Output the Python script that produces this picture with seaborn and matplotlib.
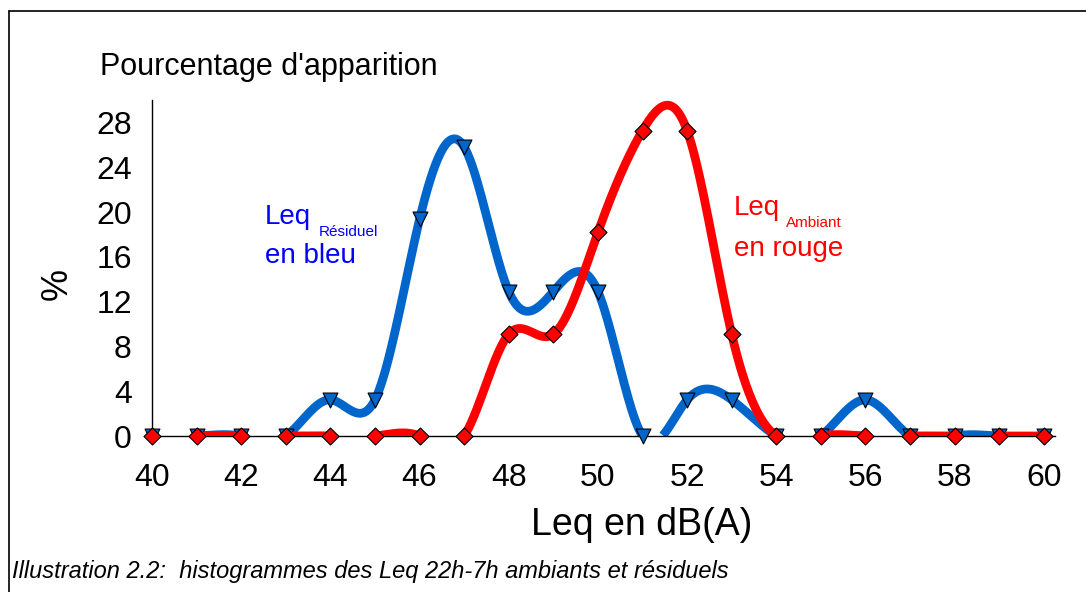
import numpy as np
import pandas as pd
import matplotlib
matplotlib.use("Agg")
import matplotlib.pyplot as plt
from matplotlib.lines import Line2D
import seaborn as sns

# --- data (percent of nights per 1 dB class) ---
leq = [40, 41, 42, 43, 44, 45, 46, 47, 48, 49, 50,
       51, 52, 53, 54, 55, 56, 57, 58, 59, 60]
residuel = [0, 0, 0, 0, 3.23, 3.23, 19.35, 25.81, 12.90, 12.90, 12.90,
            0, 3.23, 3.23, 0, 0, 3.23, 0, 0, 0, 0]
ambiant = [0, 0, 0, 0, 0, 0, 0, 0, 9.09, 9.09, 18.18,
           27.27, 27.27, 9.09, 0, 0, 0, 0, 0, 0, 0]

BLUE = "#0066cc"
RED = "#ff0000"


def smooth_curve(x, y, n=60):
    # natural cubic spline through the points, parts below 0 hidden
    x = np.asarray(x, float)
    y = np.asarray(y, float)
    h = np.diff(x)
    k = len(x)
    A = np.zeros((k, k))
    b = np.zeros(k)
    A[0, 0] = A[-1, -1] = 1
    for i in range(1, k - 1):
        A[i, i - 1] = h[i - 1]
        A[i, i] = 2 * (h[i - 1] + h[i])
        A[i, i + 1] = h[i]
        b[i] = 6 * ((y[i + 1] - y[i]) / h[i] - (y[i] - y[i - 1]) / h[i - 1])
    M = np.linalg.solve(A, b)
    xs, ys = [], []
    for i in range(k - 1):
        t = np.linspace(x[i], x[i + 1], n)
        a = x[i + 1] - t
        c = t - x[i]
        s = (M[i] * a**3 + M[i + 1] * c**3) / (6 * h[i]) \
            + (y[i] / h[i] - M[i] * h[i] / 6) * a \
            + (y[i + 1] / h[i] - M[i + 1] * h[i] / 6) * c
        xs.append(t)
        ys.append(s)
    xs = np.concatenate(xs)
    ys = np.concatenate(ys)
    ys[ys < -1e-9] = np.nan
    return xs, ys


df = pd.DataFrame({"leq": leq, "residuel": residuel, "ambiant": ambiant})

sns.set_style("white")
plt.rcParams["font.family"] = ["Liberation Sans", "DejaVu Sans"]
plt.rcParams["text.color"] = "black"
plt.rcParams["xtick.color"] = "black"
plt.rcParams["ytick.color"] = "black"

fig = plt.figure(figsize=(10.86, 5.92), dpi=100)
ax = fig.add_axes([152 / 1086, 156 / 592, 903 / 1086, 336 / 592])

bx, by = smooth_curve(leq, residuel)
ax.plot(bx, by, color=BLUE, lw=6.3, solid_capstyle="butt", zorder=2)
sns.scatterplot(data=df, x="leq", y="residuel", marker="v", s=115,
                color=BLUE, edgecolor="black", linewidth=0.8, ax=ax, zorder=3)

rx, ry = smooth_curve(leq, ambiant)
ax.plot(rx, ry, color=RED, lw=6.3, solid_capstyle="butt", zorder=4)
sns.scatterplot(data=df, x="leq", y="ambiant", marker="D", s=75,
                color=RED, edgecolor="black", linewidth=0.8, ax=ax, zorder=5)

ax.set_xlim(40, 60.25)
ax.set_ylim(0, 30)
ax.set_xticks(range(40, 61, 2))
ax.set_yticks(range(0, 31, 2))
ax.set_yticklabels([str(v) if v % 4 == 0 else "" for v in range(0, 31, 2)])
ax.set_xlabel("")
ax.set_ylabel("")
ax.tick_params(axis="both", direction="out", length=8.5, width=1,
               color="#444444", labelcolor="black", labelsize=23, pad=6)
ax.tick_params(axis="x", pad=11)
for side in ["top", "right"]:
    ax.spines[side].set_visible(False)
for side in ["left", "bottom"]:
    ax.spines[side].set_color("black")
    ax.spines[side].set_linewidth(1)
for m in ax.collections:
    m.set_clip_on(False)
ax.patch.set_alpha(0)

# texts
fig.text(100 / 1086, 1 - 75 / 592, "Pourcentage d'apparition", fontsize=22,
         va="baseline", ha="left")
fig.text(57 / 1086, 1 - 284 / 592, "%", fontsize=26, rotation=90,
         ha="center", va="center")
fig.text(642 / 1086, 1 - 535 / 592, "Leq en dB(A)", fontsize=27,
         ha="center", va="baseline")

fig.text(265 / 1086, 1 - 224 / 592, "Leq", color="blue", fontsize=20, va="baseline")
fig.text(319 / 1086, 1 - 236 / 592, "Résiduel", color="blue", fontsize=11, va="baseline")
fig.text(265 / 1086, 1 - 263 / 592, "en bleu", color="blue", fontsize=20, va="baseline")

fig.text(734 / 1086, 1 - 215 / 592, "Leq", color=RED, fontsize=20, va="baseline")
fig.text(786 / 1086, 1 - 227 / 592, "Ambiant", color=RED, fontsize=11, va="baseline")
fig.text(734 / 1086, 1 - 256 / 592, "en rouge", color=RED, fontsize=20, va="baseline")

fig.text(12 / 1086, 1 - 578 / 592,
         "Illustration 2.2:  histogrammes des Leq 22h-7h ambiants et résiduels",
         fontsize=17, style="italic", va="baseline")

# frame around the illustration
fig.add_artist(Line2D([9 / 1086, 9 / 1086], [0, 1 - 11 / 592], color="black", lw=1.2))
fig.add_artist(Line2D([9 / 1086, 1], [1 - 11 / 592, 1 - 11 / 592], color="black", lw=1.2))

fig.savefig("out.png", dpi=100)
